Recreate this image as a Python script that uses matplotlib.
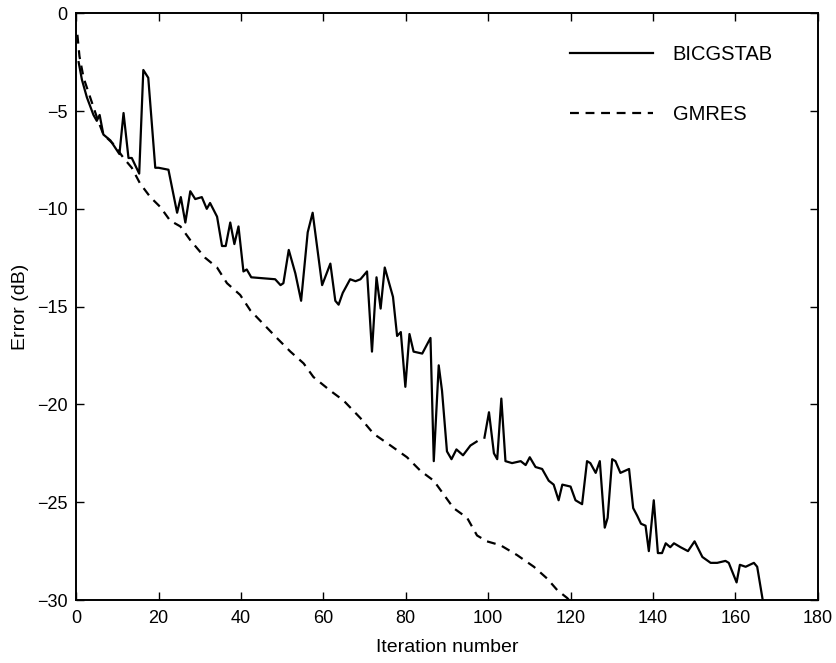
import numpy as np
import matplotlib
matplotlib.use('Agg')
import matplotlib.pyplot as plt

plt.rcParams['font.family'] = ['Liberation Sans', 'DejaVu Sans']

# BICGSTAB (solid), NaN marks the small gap near iteration 98
bicg_iter = [0.6, 1.4, 2.6, 4.2, 5.0, 5.7, 6.6, 8.3, 10.5, 11.5, 12.7, 13.5, 15.3, 16.3, 17.5,
             19.2, 20.0, 22.4, 24.5, 25.4, 26.5, 27.7, 28.9, 30.5, 31.7, 32.5, 34.2, 35.4, 36.3,
             37.4, 38.4, 39.4, 40.6, 41.4, 42.5, 48.3, 49.6, 50.3, 51.6, 53.2, 54.6, 56.2, 57.4,
             58.4, 59.7, 61.7, 62.9, 63.7, 64.7, 66.5, 67.8, 69.0, 70.6, 71.8, 72.9, 73.9, 74.9,
             76.9, 77.9, 78.8, 79.9, 80.9, 81.9, 84.0, 86.0, 86.8, 88.0, 88.8, 90.0, 91.1, 92.3,
             93.9, 95.7, 97.2, 98.0, 99.1, 100.2, 101.4, 102.2, 103.2, 104.2, 105.8, 107.9, 109.1,
             110.1, 111.5, 113.1, 114.7, 115.9, 117.1, 118.0, 120.0, 121.2, 122.8, 124.0, 124.8,
             126.1, 127.1, 128.3, 129.0, 130.1, 130.9, 132.1, 134.2, 135.2, 136.2, 137.1, 138.2,
             139.0, 140.2, 141.2, 142.2, 143.1, 144.2, 145.1, 146.7, 148.5, 150.1, 152.0, 154.0,
             155.6, 157.6, 158.4, 160.3, 161.1, 162.5, 164.5, 165.3, 166.8]
bicg_err = [-2.5, -3.4, -4.3, -5.2, -5.5, -5.2, -6.2, -6.5, -7.2, -5.1, -7.4, -7.4, -8.2, -2.9, -3.3,
            -7.9, -7.9, -8.0, -10.2, -9.4, -10.7, -9.1, -9.5, -9.4, -10.0, -9.7, -10.4, -11.9, -11.9,
            -10.7, -11.8, -10.9, -13.2, -13.1, -13.5, -13.6, -13.9, -13.8, -12.1, -13.3, -14.7, -11.2, -10.2,
            -11.8, -13.9, -12.8, -14.7, -14.9, -14.3, -13.6, -13.7, -13.6, -13.2, -17.3, -13.5, -15.1, -13.0,
            -14.5, -16.5, -16.3, -19.1, -16.4, -17.3, -17.4, -16.6, -22.9, -18.0, -19.3, -22.4, -22.8, -22.3,
            -22.6, -22.1, -21.9, np.nan, -21.7, -20.4, -22.5, -22.8, -19.7, -22.9, -23.0, -22.9, -23.1,
            -22.7, -23.2, -23.3, -23.9, -24.1, -24.9, -24.1, -24.2, -24.9, -25.1, -22.9, -23.0,
            -23.5, -22.9, -26.3, -25.8, -22.8, -22.9, -23.5, -23.3, -25.3, -25.7, -26.1, -26.2,
            -27.5, -24.9, -27.6, -27.6, -27.1, -27.3, -27.1, -27.3, -27.5, -27.0, -27.8, -28.1,
            -28.1, -28.0, -28.1, -29.1, -28.2, -28.3, -28.1, -28.3, -30.2]

# GMRES (dashed)
gmres_iter = [0.3, 0.8, 1.8, 3.4, 5.0, 6.6, 9.1, 11.5, 13.5, 15.5, 18.0, 20.4, 22.8, 25.3, 27.7,
              31.3, 34.2, 36.6, 39.8, 42.3, 45.5, 48.7, 52.0, 55.2, 57.6, 61.7, 64.9, 69.0, 72.2,
              76.3, 80.3, 83.6, 86.8, 89.2, 91.6, 94.9, 97.3, 99.7, 103.0, 107.0, 111.1, 114.3,
              116.8, 119.2, 120.0]
gmres_err = [-1.1, -2.2, -3.3, -4.3, -5.3, -6.2, -6.7, -7.4, -7.9, -8.7, -9.4, -9.9, -10.6, -10.9, -11.6,
             -12.5, -13.0, -13.8, -14.4, -15.2, -15.9, -16.6, -17.3, -17.9, -18.6, -19.3, -19.8, -20.7, -21.5,
             -22.1, -22.7, -23.4, -23.9, -24.6, -25.3, -25.8, -26.7, -27.0, -27.2, -27.7, -28.3, -28.9,
             -29.5, -29.9, -30.1]

fig = plt.figure(figsize=(8.37, 6.63), dpi=100)
ax = fig.add_axes([0.091, 0.095, 0.886, 0.885])

ax.plot(bicg_iter, bicg_err, color='black', lw=1.6, label='BICGSTAB')
ax.plot(gmres_iter, gmres_err, color='black', lw=1.6, dashes=(4, 3), label='GMRES')

ax.set_xlim(0, 180)
ax.set_ylim(-30, 0)
ax.set_xticks(np.arange(0, 181, 20))
ax.set_yticks(np.arange(-30, 1, 5))
ax.tick_params(direction='in', top=True, right=True, length=6, labelsize=13, width=1)
ax.tick_params(axis='x', pad=7)
ax.tick_params(axis='y', pad=6)
for s in ax.spines.values():
    s.set_linewidth(1.4)

ax.set_xlabel('Iteration number', fontsize=14, labelpad=9)
ax.set_ylabel('Error (dB)', fontsize=14, labelpad=6)

ax.legend(loc='upper left', bbox_to_anchor=(0.666, 0.946), frameon=False, fontsize=14.5,
          borderpad=0, borderaxespad=0, handlelength=4.1, labelspacing=2.05, handletextpad=1.0)

fig.savefig('out.png', dpi=100)
